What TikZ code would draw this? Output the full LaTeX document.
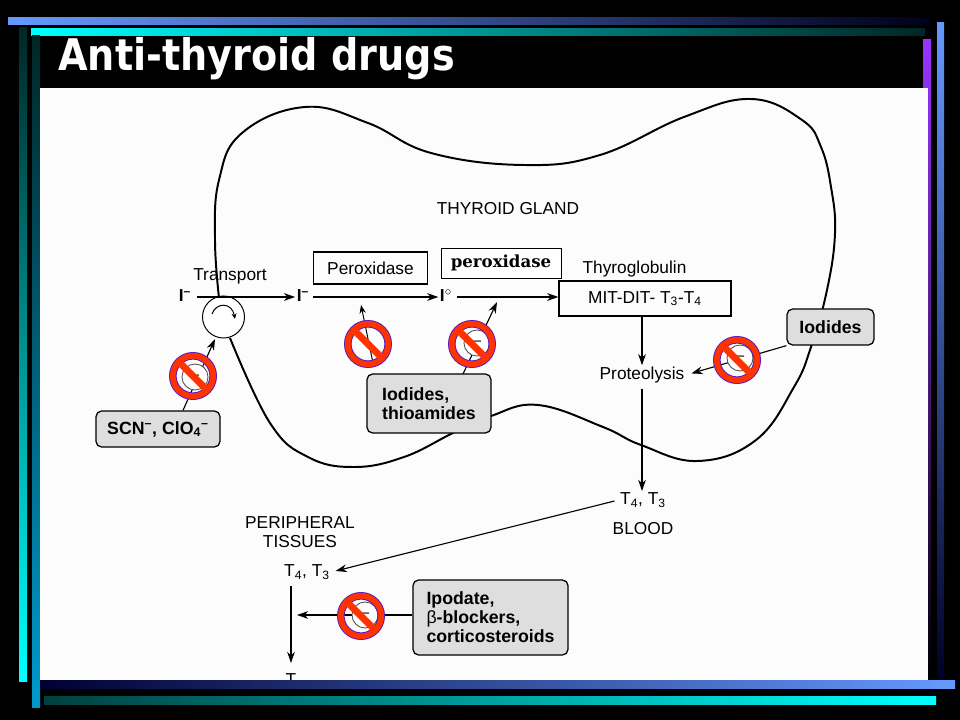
\documentclass[tikz,border=0pt]{standalone}
\usepackage{fontspec}
\setmainfont{Liberation Sans}
\newfontfamily\titlefont[FakeStretch=0.876]{DejaVu Sans}
\newfontfamily\labelfont{DejaVu Serif}
\usetikzlibrary{arrows.meta,positioning,calc}
\definecolor{barblue}{RGB}{102,153,255}
\definecolor{barcyan}{RGB}{0,255,255}
\definecolor{barpurple}{RGB}{153,51,255}
\definecolor{barsky}{RGB}{0,153,204}
\definecolor{softgray}{RGB}{222,222,222}
\definecolor{banred}{RGB}{255,51,0}
\definecolor{banpurple}{RGB}{90,30,190}
\tikzset{
  plain/.style={inner sep=1pt, font=\fontsize{12.3}{14}\selectfont},
  drugbox/.style={draw, line width=0.9pt, rounded corners=4pt, fill=softgray, inner sep=0pt, font=\fontsize{12.6}{13.6}\selectfont\bfseries},
  flatbox/.style={draw, line width=0.8pt, inner sep=0pt},
  flow/.style={-{Stealth[length=8pt,width=5.5pt]}, line width=0.8pt},
  thinflow/.style={-{Stealth[length=6pt,width=4.5pt]}, line width=0.7pt},
  inhib/.style={draw=black!70, fill=white, circle, line width=0.6pt, minimum size=0.65cm, inner sep=0pt, font=\fontsize{11}{11}\selectfont},
  bansign/.style={circle, draw=banpurple, double=banred, line width=0.7pt, double distance=4pt, minimum size=1.01cm, inner sep=0pt, outer sep=0pt},
}
\begin{document}
\begin{tikzpicture}[x=0.025cm, y=-0.025cm, every node/.style={plain}]
    \fill[black] (0,0) rectangle (960,720);
    % bars round the slide
    \shade[left color=barblue, middle color=barblue!75!black, right color=black!90!blue] (8,18) rectangle (930,25);
    \shade[left color=barcyan, middle color=barcyan!78!black, right color=black!85!cyan] (31,29) rectangle (925,36);
    \shade[top color=black!85!cyan, middle color=barcyan!58!black, bottom color=barcyan] (19,28) rectangle (27,681);
    \shade[top color=black!85!cyan, middle color=barsky!65!black, bottom color=barsky] (32,36) rectangle (40,707);
    \shade[top color=barpurple, middle color=barpurple!60!black, bottom color=black] (923,40) rectangle (931,680);
    \shade[top color=barblue, middle color=barblue!70!black, bottom color=black!85!blue] (937,23) rectangle (944,680);
    \fill[white!99!black] (40,88) rectangle (928,679.5);
    \node[inner sep=0pt, anchor=base west, text=white, font=\titlefont\fontsize{31}{31}\selectfont\bfseries] (title) at (58,71) {Anti-thyroid drugs};

    % gland outline
    \draw[line width=1.4pt] plot[smooth, tension=0.7] coordinates {
      (219,298) (215,240) (219,180) (242,133) (305,107) (368,123) (431,153) (524,165)
      (600,155) (684,117) (751,99) (802,120) (821,147) (831,187) (835,233) (827,290) (811,347)
      (794,387) (756,440) (698,461) (641,445) (603,427) (538,405) (491,416) (453,433)
      (404,457) (354,467) (308,457) (270,423) (230,338)};

    \node (gland) at (508,209) {THYROID GLAND};
    \node (transport) at (230,276) {Transport};
    \node[circle, draw, fill=white, line width=0.7pt, minimum size=1.05cm, inner sep=0pt] (pump) at (223.5,317) {};
    \node (iout) at (185,296) {\textbf{I}\textsuperscript{\textbf{--}}};
    \node (iin) at (303,296) {\textbf{I}\textsuperscript{\textbf{--}}};
    \node (izero) at (446,296) {\textbf{I}\textsuperscript{$\circ$}};
    \node[flatbox, minimum width=2.83cm, minimum height=0.8cm] (perobox) at (370.5,268) {Peroxidase};
    \node[draw, line width=0.6pt, fill=white, inner sep=0pt, minimum width=3cm, minimum height=0.75cm, font=\labelfont\fontsize{11.8}{12}\selectfont\bfseries] (perolabel) at (501,263) {\raisebox{-1pt}{peroxidase}};
    \node[flatbox, minimum width=4.3cm, minimum height=0.875cm] (thyrobox) at (645,298.5) {MIT-DIT- T\textsubscript{3}-T\textsubscript{4}};
    \node (thyro) at (634.5,269) {Thyroglobulin};
    \node (proteo) at (642,375) {Proteolysis};
    \node (tblood) at (643,500) {T\textsubscript{4}, T\textsubscript{3}};
    \node[below=0.3cm of tblood] (blood) {BLOOD};
    \node[align=center, font=\fontsize{12.3}{13}\selectfont] (tissues) at (300,532) {PERIPHERAL\\TISSUES};
    \node (ttissue) at (307,572) {T\textsubscript{4}, T\textsubscript{3}};
    \begin{scope}
      \clip (40,88) rectangle (928,679.5);
      \node[anchor=north, inner sep=0pt] (tend) at (291,673) {T};
    \end{scope}

    \node[drugbox, minimum width=3.1cm, minimum height=0.9cm] (scnbox) at (158,429) {SCN\textsuperscript{--}, ClO\textsubscript{4}\textsuperscript{--}};
    \node[drugbox, minimum width=3.1cm, minimum height=1.475cm, align=left] (thiobox) at (429,403.5) {Iodides,\\thioamides};
    \node[drugbox, minimum width=2.175cm, minimum height=0.9cm] (iodbox) at (830.5,327) {Iodides};
    \node[drugbox, minimum width=3.875cm, minimum height=1.875cm, align=left] (ipobox) at (490.5,617.5) {Ipodate,\\{\mdseries β}-blockers,\\corticosteroids};

    \coordinate (perotip) at (361,305);
    \coordinate (perofoot) at (373,363);
    \coordinate (cytotip) at (497,302);
    \coordinate (cytofoot) at (463,374);
    \coordinate (tissuein) at (297,615);
    \coordinate (pumpin) at (215,339);

    \draw[flow] (iout.east |- 0,297) ++(4,0) -- (iin.west |- 0,297);
    \draw[flow] (iin.east |- 0,297) ++(2,0) -- (izero.west |- 0,297);
    \draw[flow] (izero.east |- 0,297) ++(3,0) -- (thyrobox.west |- 0,297);
    \draw[flow] (proteo |- thyrobox.south) -- (proteo.north);
    \draw[flow, shorten <=3pt] (proteo.south) -- (proteo |- tblood.north);
    \draw[flow, shorten <=3pt, shorten >=3pt] (tblood.west) -- (ttissue.east);
    \draw[flow] (tend |- 0,586) -- (tend.north |- 0,663);
    \draw[flow] (scnbox.north -| 183,0) -- (pumpin);
    \draw[thinflow] (perofoot) -- (perotip);
    \draw[flow] (cytofoot) -- (cytotip);
    \draw[flow, shorten >=4pt] (iodbox.south west) -- (proteo.east);
    \draw[flow] (ipobox.west |- tissuein) -- (tissuein);
    \draw[-{Stealth[length=4pt,width=3.5pt]}, line width=0.7pt] (212,314) .. controls (216,302) and (232,302) .. (235,319);

    % blocked steps
    \foreach \n/\x/\y in {1/195/377,3/477/343,4/740/358,5/365/615}
      \node[inhib] (inh\n) at (\x,\y) {--};
    \foreach \n/\x/\y in {1/193/376,2/368/344,3/472/344,4/737/360,5/361/616} {
      \node[bansign] (ban\n) at (\x,\y) {};
      \draw[banred, line width=5pt] (ban\n.135) -- (ban\n.-45);
    }

    % bottom bars go last
    \shade[left color=black!80!blue, middle color=barblue!40!black, right color=barblue] (40,680) rectangle (955,688);
    \shade[left color=black!75!cyan, middle color=barcyan!50!black, right color=barcyan] (44,696) rectangle (936,704);
  \end{tikzpicture}
\end{document}
